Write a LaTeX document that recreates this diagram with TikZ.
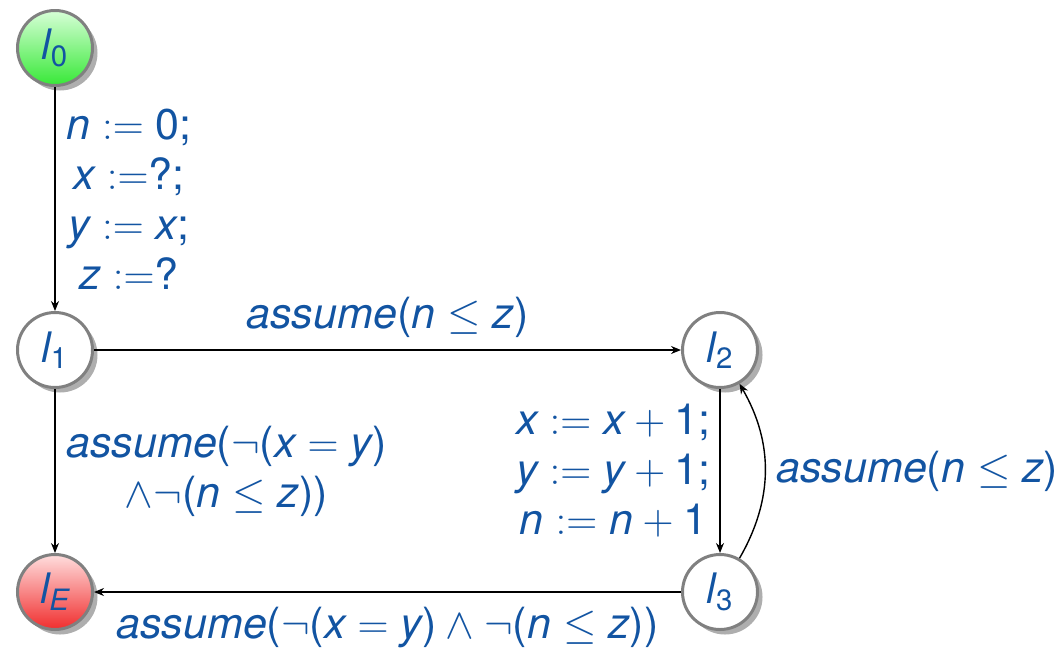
\RequirePackage{fix-cm}
\documentclass[tikz,border=0pt]{standalone}
\usepackage{amsmath,amssymb}
\usepackage{fontspec}
\setmainfont{TeX Gyre Heros}
\usetikzlibrary{arrows.meta,positioning,shadows}
\definecolor{LocBlue}{RGB}{18,84,162}
\definecolor{LocGray}{RGB}{128,128,128}
\definecolor{InitGreenTop}{RGB}{215,255,215}
\definecolor{InitGreen}{RGB}{55,232,55}
\definecolor{ErrRedTop}{RGB}{255,222,222}
\definecolor{ErrRed}{RGB}{240,45,45}
\newcommand{\mv}[1]{\text{\itshape #1}}
\newcommand{\tx}[1]{\text{#1}}

\begin{document}
\begin{tikzpicture}[x=0.5pt,y=-0.5pt,
  loc/.style={circle,draw=LocGray,line width=1.5pt,minimum size=37.5pt,inner sep=0pt,
    fill=white,text=LocBlue,font=\fontsize{21}{24}\selectfont,
    drop shadow={shadow xshift=2.5pt,shadow yshift=-2.5pt,opacity=0.45,fill=black!70}},
  initloc/.style={top color=InitGreenTop,bottom color=InitGreen},
  errloc/.style={top color=ErrRedTop,bottom color=ErrRed},
  lbl/.style={text=LocBlue,font=\fontsize{21.5}{25}\selectfont,align=center},
  edge/.style={-{Stealth[length=5pt,width=4pt]},black,line width=0.7pt}]
  \useasboundingbox (0,0) rectangle (1063,649);

  % locations
  \node[loc,initloc] (l0) at (55,48) {$\mv{l}_{\tx{0}}$};
  \node[loc] (l1) at (55,350) {$\mv{l}_{\tx{1}}$};
  \node[loc] (l2) at (720,350) {$\mv{l}_{\tx{2}}$};
  \node[loc] (l3) at (720,592) {$\mv{l}_{\tx{3}}$};
  \node[loc,errloc] (lE) at (55,592) {$\mv{l}_{\mv{E}}$};

  % transitions
  \draw[edge] (l0) -- node[lbl,right=2pt] {$\mv{n} := \tx{0;}$\\ $\mv{x} :=$?;\\ $\mv{y} := \mv{x}\tx{;}$\\ $\mv{z} :=$?} (l1);
  \draw[edge] (l1) -- node[lbl,above=2.5pt] {$\mv{assume}\tx{(}\mv{n} \leq \mv{z}\tx{)}$} (l2);
  \draw[edge] (l1) -- node[lbl,right=2pt] {$\mv{assume}\tx{(}\neg\tx{(}\mv{x} = \mv{y}\tx{)}$\\ $\wedge\neg\tx{(}\mv{n} \leq \mv{z}\tx{))}$} (lE);
  \draw[edge] (l2) -- node[lbl,left=1pt] {$\mv{x} := \mv{x} + \tx{1;}$\\ $\mv{y} := \mv{y} + \tx{1;}$\\ $\mv{n} := \mv{n} + \tx{1}$} (l3);
  \draw[edge] (l3) to[bend right=30] node[lbl,right=2pt] {$\mv{assume}\tx{(}\mv{n} \leq \mv{z}\tx{)}$} (l2);
  \draw[edge] (l3) -- node[lbl,below=4pt] {$\mv{assume}\tx{(}\neg\tx{(}\mv{x} = \mv{y}\tx{)} \wedge \neg\tx{(}\mv{n} \leq \mv{z}\tx{))}$} (lE);
\end{tikzpicture}
\end{document}
